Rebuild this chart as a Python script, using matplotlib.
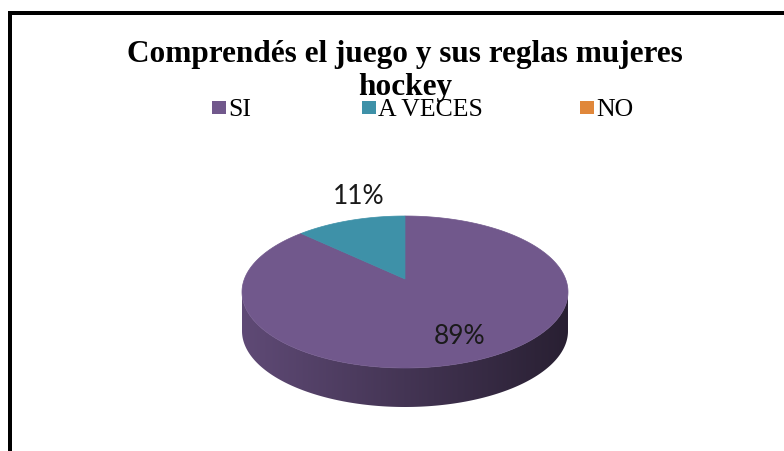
import numpy as np
import matplotlib
matplotlib.use("Agg")
import matplotlib.pyplot as plt
from matplotlib.patches import Polygon, Rectangle
from matplotlib.colors import to_rgb

# Chart data
title_lines = ["Comprendés el juego y sus reglas mujeres", "hockey"]
labels = ["SI", "A VECES", "NO"]
values = [89, 11, 0]
colors = ["#71588c", "#3e91a8", "#e0873a"]

W, H = 784, 452
fig = plt.figure(figsize=(W / 100, H / 100), dpi=100)
ax = fig.add_axes([0, 0, 1, 1])
ax.set_xlim(0, W)
ax.set_ylim(H, 0)
ax.axis("off")

# Frame (top and left edges visible)
ax.add_patch(Rectangle((8, 12), W, 4, color="black", lw=0))
ax.add_patch(Rectangle((8, 12), 4, H, color="black", lw=0))

# Pie geometry in pixels
cx, cy, a, b, depth = 405, 293, 163, 76, 39
apex = (405, 280)


def pt(t):
    return cx + a * np.cos(t), cy - b * np.sin(t)


total = sum(values)
start = np.pi / 2
slices = []
for v, c in zip(values, colors):
    sweep = 2 * np.pi * v / total
    slices.append((start, start - sweep, c))
    start -= sweep

# Side walls (front half only), shaded left to right
for t0, t1, c in slices:
    if t0 == t1:
        continue
    ts = np.linspace(t0, t1, 400)
    ts_mod = np.mod(ts, 2 * np.pi)
    front = ts[(ts_mod > np.pi) & (ts_mod < 2 * np.pi)]
    if len(front) < 2:
        continue
    xs, ys = pt(front)
    verts = list(zip(xs, ys)) + list(zip(xs[::-1], ys[::-1] + depth))
    poly = Polygon(verts, closed=True, facecolor="none", edgecolor="none")
    ax.add_patch(poly)
    base = np.array(to_rgb(c))
    fac = np.linspace(0.84, 0.36, 256)
    grad = (base[None, :] * fac[:, None])[None, :, :]
    im = ax.imshow(grad, extent=(cx - a, cx + a, cy + b + depth, cy), aspect="auto", zorder=1)
    im.set_clip_path(poly)

# Top face
for t0, t1, c in slices:
    if t0 == t1:
        continue
    ts = np.linspace(t0, t1, 400)
    xs, ys = pt(ts)
    verts = [apex] + list(zip(xs, ys))
    ax.add_patch(Polygon(verts, closed=True, facecolor=c, edgecolor=c, lw=0.5, zorder=2))

# Percentage labels
ax.text(359, 197, "11%", fontsize=19, family="Lato", ha="center", va="center", color="#1a1a1a", zorder=3)
ax.text(460, 337, "89%", fontsize=19, family="Lato", ha="center", va="center", color="#1a1a1a", zorder=3)

# Title (two lines, the second one sits right on the legend like the original)
for y, line in zip([62, 95], title_lines):
    ax.text(405, y, line, fontsize=22.5, family="Liberation Serif", fontweight="bold",
            ha="center", va="baseline", zorder=4)

# Legend
leg_x = [212, 362, 580]
for x, lab, c in zip(leg_x, labels, colors):
    ax.add_patch(Rectangle((x, 102), 14, 13, color=c, lw=0))
    ax.text(x + 16, 116, lab, fontsize=18.5, family="Liberation Serif", ha="left", va="baseline")

fig.savefig("out.png", dpi=100)
